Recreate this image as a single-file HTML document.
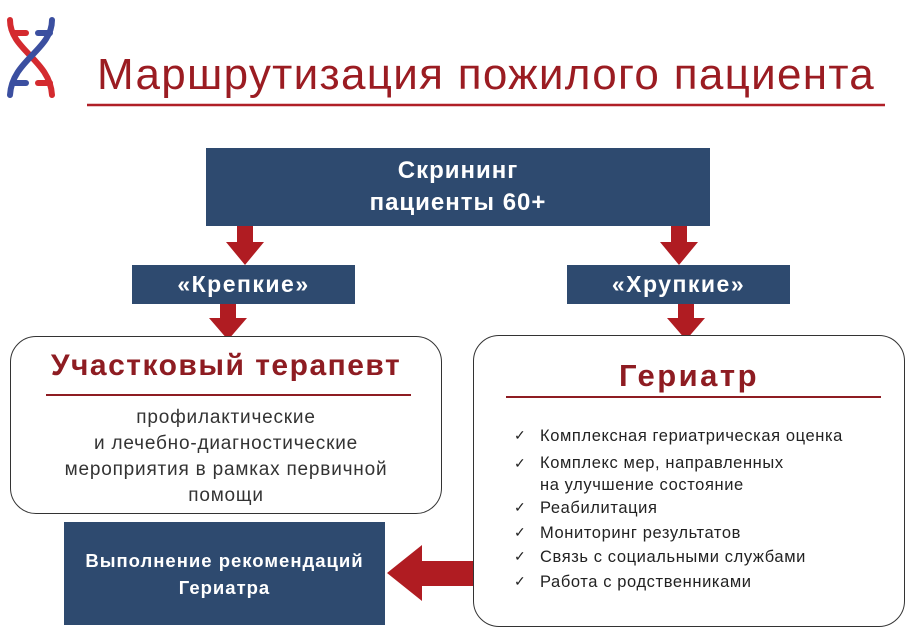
<!DOCTYPE html>
<html><head><meta charset="utf-8"><style>
body{margin:0;width:910px;height:640px;background:#fff;position:relative;overflow:hidden;font-family:"Liberation Sans",sans-serif}
.a{position:absolute}
.blue{background:#2e4a6f;color:#fff;font-weight:bold;text-align:center;display:flex;align-items:center;justify-content:center}
.rb{border:1.5px solid #333;border-radius:26px;background:#fff}
.li{position:absolute;left:36px;font-size:16.5px;letter-spacing:0.6px;color:#222;white-space:nowrap}
.li:before{content:"✓";position:absolute;left:-26px;font-size:14px}
</style></head><body>
<svg class="a" style="left:0;top:0" width="910" height="640">
<g stroke-width="6" fill="none" stroke-linecap="round">
<path d="M10 20 C10 50 50 60 52 95" stroke="#d42a2f"/>
<path d="M52 20 C52 50 12 60 10 95" stroke="#3b4fa0"/>
<line x1="14" y1="33" x2="26" y2="33" stroke="#d42a2f"/>
<line x1="38" y1="33" x2="50" y2="33" stroke="#3b4fa0"/>
<line x1="14" y1="83" x2="26" y2="83" stroke="#3b4fa0"/>
<line x1="38" y1="83" x2="50" y2="83" stroke="#d42a2f"/>
</g>
<line x1="87" y1="105" x2="885" y2="105" stroke="#b01f27" stroke-width="2.5"/>
<g fill="#b01c22">
<polygon points="237,226 253,226 253,242 264,242 245,265 226,242 237,242"/>
<polygon points="671,226 687,226 687,242 698,242 679,265 660,242 671,242"/>
<polygon points="220,304 236,304 236,318 247,318 228,340 209,318 220,318"/>
<polygon points="678,304 694,304 694,318 705,318 686,340 667,318 678,318"/>
<polygon points="473,561 422,561 422,545 387,573 422,601 422,586 473,586"/>
</g>
</svg>
<div class="a" style="left:97px;top:50px;font-size:44px;color:#9b1c22;letter-spacing:1.3px;white-space:nowrap">Маршрутизация пожилого пациента</div>
<div class="a blue" style="left:206px;top:148px;width:504px;height:78px;font-size:24px;letter-spacing:1px;line-height:32px">Скрининг<br>пациенты 60+</div>
<div class="a blue" style="left:132px;top:265px;width:223px;height:39px;font-size:23px;letter-spacing:1.5px">«Крепкие»</div>
<div class="a blue" style="left:567px;top:265px;width:223px;height:39px;font-size:23px;letter-spacing:1.5px">«Хрупкие»</div>
<div class="a rb" style="left:10px;top:336px;width:430px;height:176px">
<div class="a" style="left:0;width:430px;top:12px;text-align:center;font-size:30px;letter-spacing:1.5px;font-weight:bold;color:#8e1c22;white-space:nowrap">Участковый терапевт</div>
<div class="a" style="left:35px;top:57px;width:365px;height:1.5px;background:#8e1c22"></div>
<div class="a" style="left:0;width:430px;top:68px;text-align:center;font-size:19px;letter-spacing:0.8px;line-height:26px;color:#333">профилактические<br>и лечебно-диагностические<br>мероприятия в рамках первичной<br>помощи</div>
</div>
<div class="a rb" style="left:473px;top:335px;width:430px;height:290px">
<div class="a" style="left:0;width:430px;top:22px;text-align:center;font-size:31px;letter-spacing:2.5px;font-weight:bold;color:#8e1c22">Гериатр</div>
<div class="a" style="left:32px;top:60px;width:375px;height:1.5px;background:#8e1c22"></div>
<div style="position:absolute;left:30px;top:0">
<div class="li" style="top:91px">Комплексная гериатрическая оценка</div>
<div class="li" style="top:116px;line-height:22px">Комплекс мер, направленных<br>на улучшение состояние</div>
<div class="li" style="top:163px">Реабилитация</div>
<div class="li" style="top:188px">Мониторинг результатов</div>
<div class="li" style="top:212px">Связь с социальными службами</div>
<div class="li" style="top:237px">Работа с родственниками</div>
</div>
</div>
<div class="a blue" style="left:64px;top:522px;width:321px;height:103px;font-size:18.5px;letter-spacing:1px;line-height:27px">Выполнение рекомендаций<br>Гериатра</div>
</body></html>
